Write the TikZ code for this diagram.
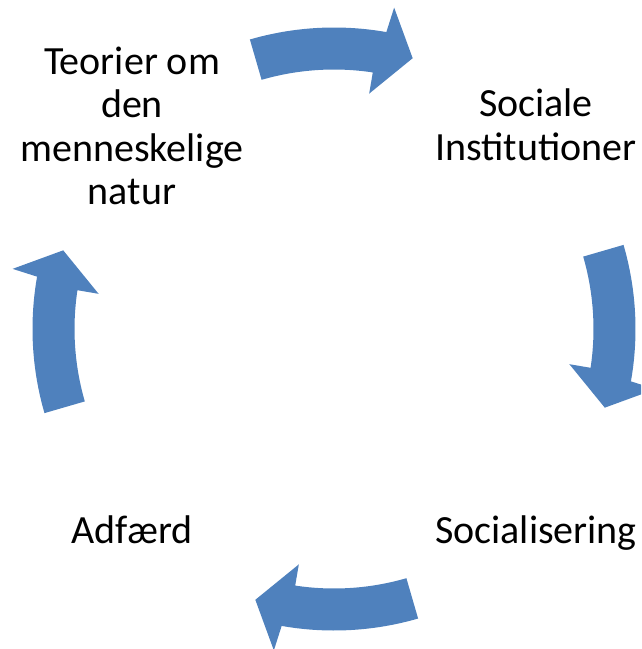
\documentclass[tikz,border=0pt]{standalone}
\usepackage{fontspec}
\setmainfont{Carlito}
\definecolor{arrowblue}{HTML}{4F81BD}
\begin{document}
\begin{tikzpicture}[x=1pt,y=1pt,
  cyclearrow/.style={fill=arrowblue, draw=none},
  labeltext/.style={font=\fontsize{40}{43.5}\selectfont, align=center, inner sep=0pt, text=black}]
\useasboundingbox (0,0) rectangle (641,-649);
\clip (0,0) rectangle (641,-649);
\coordinate (C) at (334,-329);
\foreach \rot/\nm in {0/top,-90/right,-180/bottom,-270/left}{
  \begin{scope}[shift={(C)}, rotate=\rot]
    \fill[cyclearrow] (106.2:301.5) arc[start angle=106.2, end angle=80, radius=301.5]
      -- (79.4:327) -- (73.8:282) -- (81.5:238) -- (81.4:259.5)
      arc[start angle=81.4, end angle=106.2, radius=259.5] -- cycle;
  \end{scope}
}
\node[labeltext] (teorier) at (132,-126) {Teorier om\\den\\menneskelige\\natur};
\node[labeltext] (sociale) at (536,-125) {Sociale\\Institutioner};
\node[labeltext, anchor=base] (socialisering) at (536,-543) {Socialisering};
\node[labeltext, anchor=base] (adfaerd) at (132,-543) {Adfærd};
\end{tikzpicture}
\end{document}
